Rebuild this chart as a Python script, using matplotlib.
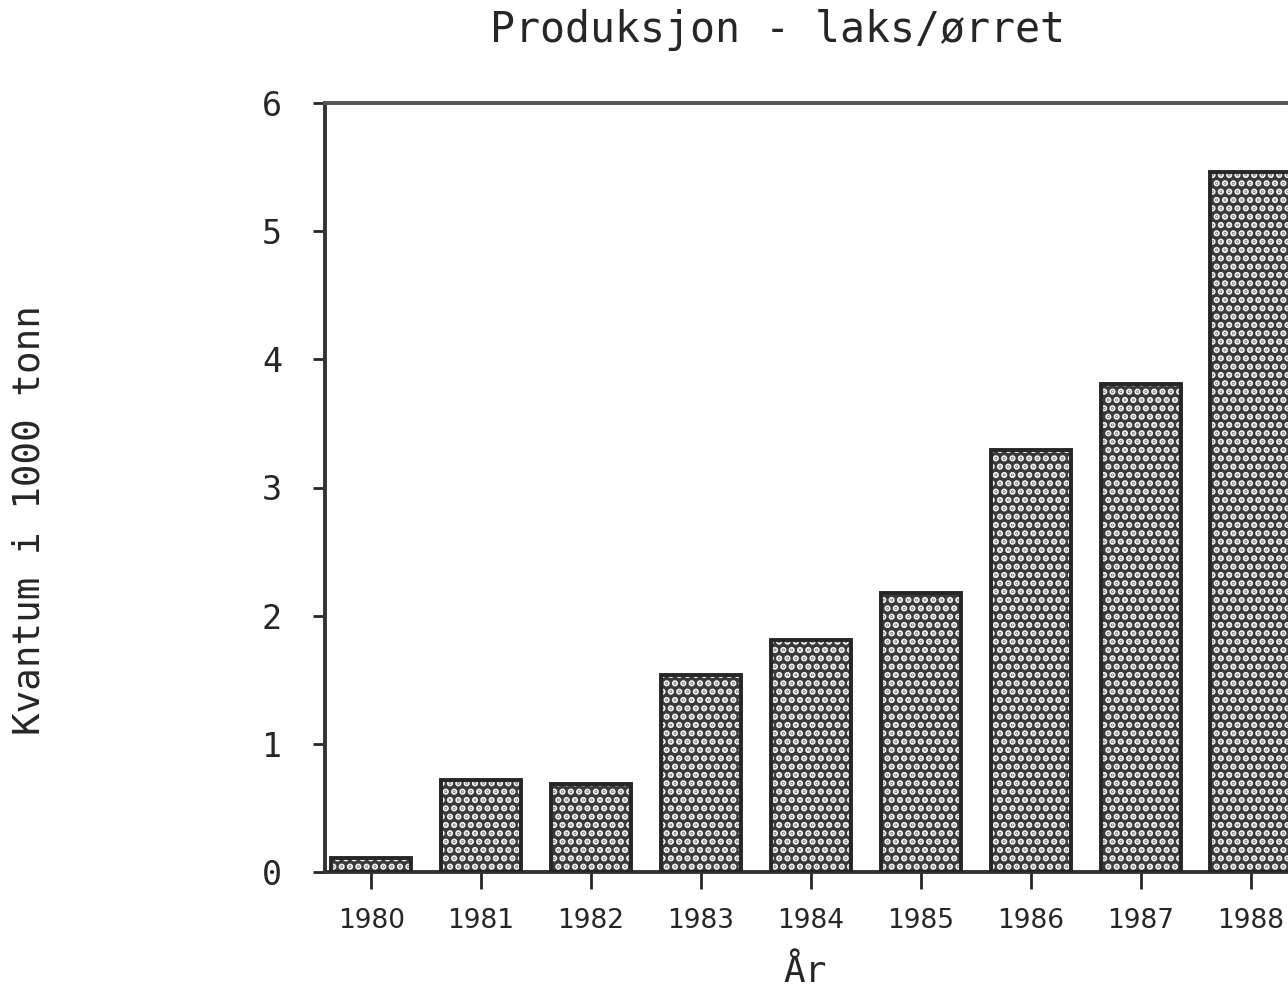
import matplotlib
matplotlib.use("Agg")
import matplotlib.pyplot as plt
import numpy as np

years = ["1980", "1981", "1982", "1983", "1984", "1985", "1986", "1987", "1988"]
values = [0.11, 0.72, 0.69, 1.54, 1.81, 2.18, 3.29, 3.81, 5.46]
yticks = [0, 1, 2, 3, 4, 5, 6]
title = "Produksjon - laks/ørret"
ylabel = "Kvantum i 1000 tonn"
xlabel = "År"

plt.rcParams['hatch.linewidth'] = 3.2
ink = '#262626'

fig = plt.figure(figsize=(12.88, 9.89), dpi=100)
ax = fig.add_axes([325/1288, 1-872/989, 1-325/1288, (872-103)/989])

x = np.arange(len(years))
ax.bar(x, values, width=0.73, color='#3a3a3a', edgecolor='#f4f4f4', hatch='..', linewidth=0, zorder=2)
ax.bar(x, values, width=0.73, fill=False, edgecolor=ink, linewidth=2.8, zorder=3)

ax.set_xlim(-0.42, 8.34)
ax.set_ylim(0, 6)
ax.set_yticks(yticks)
ax.set_yticklabels([str(v) for v in yticks], fontfamily='DejaVu Sans Mono', fontsize=24, color=ink)
ax.set_xticks(x)
ax.set_xticklabels(years, fontfamily='DejaVu Sans', fontsize=19, color=ink)
ax.tick_params(axis='y', direction='out', length=9, width=2, pad=22, colors=ink)
ax.tick_params(axis='x', direction='out', length=12, width=2, pad=14, colors=ink)

for s in ['left', 'bottom', 'top']:
    ax.spines[s].set_linewidth(2.8)
    ax.spines[s].set_color('#333333')
ax.spines['top'].set_color('#555555')
ax.spines['right'].set_visible(False)

fig.text(778/1288, 1-30/989, title, fontfamily='DejaVu Sans Mono', fontsize=30,
         ha='center', va='center', color=ink)
fig.text(30/1288, 1-520/989, ylabel, fontfamily='DejaVu Sans Mono', fontsize=27,
         rotation=90, ha='center', va='center', color=ink)
fig.text(805/1288, 1-972/989, xlabel, fontfamily='DejaVu Sans Mono', fontsize=26,
         ha='center', va='center', color=ink)

fig.savefig("out.png", dpi=100, facecolor='white')
